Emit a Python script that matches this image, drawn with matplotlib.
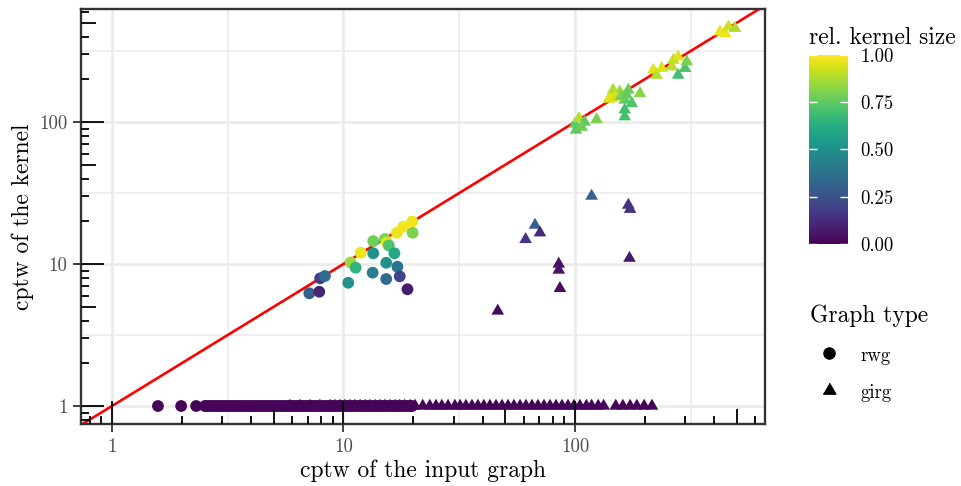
import numpy as np
import matplotlib.pyplot as plt
from matplotlib.transforms import blended_transform_factory
from matplotlib.lines import Line2D
from matplotlib.ticker import NullFormatter

plt.rcParams['font.family'] = 'cmr10'
plt.rcParams['mathtext.fontset'] = 'cm'
plt.rcParams['axes.unicode_minus'] = False

# --- rwg: kernels that collapse to cptw 1 ---
rwg_x_base = [1.58, 1.99, 2.31, 2.52, 2.58, 2.65, 2.72, 2.79, 2.86, 2.93, 3.0,
              3.08, 3.15, 3.23, 3.31, 3.40, 3.48, 3.57, 3.66, 3.75, 3.85,
              3.95, 4.05, 4.15, 4.25, 4.36, 4.47, 4.58, 4.7, 4.81, 4.93, 5.06,
              5.19, 5.32, 5.45, 5.59, 5.73, 5.87, 6.02, 6.17, 6.33, 6.49,
              6.65, 6.82, 6.99, 7.17, 7.35, 7.53, 7.72, 7.91, 8.11, 8.32,
              8.53, 8.74, 8.96, 9.19, 9.42, 9.66, 9.9, 10.15, 10.4, 10.67,
              10.9, 11.2, 11.5, 11.8, 12.1, 12.4, 12.7, 13.0, 13.3, 13.7,
              14.0, 14.4, 14.7, 15.1, 15.5, 15.9, 16.3, 16.7, 17.1, 17.5,
              17.9, 18.4, 18.9, 19.4, 19.8]

# --- rwg: non-trivial kernels ---
rwg_x = [7.12, 7.86, 7.93, 8.32, 10.49, 10.74, 11.29, 11.87, 13.37, 13.45,
         13.45, 15.1, 15.4, 15.7, 15.3, 15.3, 16.6, 17.1, 17.5, 17.0, 18.1,
         19.8, 19.9, 18.9]
rwg_y = [6.22, 6.38, 7.93, 8.23, 7.38, 10.26, 9.42, 12.0, 8.69, 11.9, 14.5,
         15.0, 14.2, 13.5, 10.2, 7.84, 11.9, 9.57, 8.19, 16.6, 18.3, 19.9,
         16.6, 6.64]
rwg_rel = [0.30, 0.10, 0.18, 0.35, 0.50, 0.85, 0.65, 0.97, 0.42, 0.50, 0.78,
           0.80, 0.95, 0.72, 0.50, 0.35, 0.60, 0.38, 0.20, 0.97, 0.98, 0.98,
           0.80, 0.08]

# --- girg: kernels that collapse to cptw 1 ---
girg_x_base = [5.87, 6.49, 7.17, 7.91, 8.74, 9.19, 9.66, 10.15, 10.67, 11.2,
               11.8, 12.4, 13.0, 13.7, 14.4, 15.1, 15.9, 16.7, 17.5, 18.4,
               19.4, 20.4, 22.0, 23.6, 25.1, 26.6, 28.3, 30.3, 31.9, 33.8,
               35.9, 38.1, 40.4, 42.9, 45.6, 48.4, 51.4, 54.5, 57.9, 61.4,
               65.2, 69.2, 73.5, 78.0, 82.8, 87.9, 93.3, 99.0, 105, 112, 118,
               126, 133, 150, 161, 173, 185, 199, 215]

# --- girg: non-trivial kernels ---
girg_x = [118, 170, 173, 67.2, 61.2, 70.6, 85.1, 85.1, 86.1, 172, 46.4,
          100, 101, 104, 110, 124, 107, 144, 146, 156, 164, 170, 191, 164,
          164, 176, 150, 158, 167, 140, 218, 225, 237, 262, 266, 279, 279,
          299, 304, 423, 445, 460, 491]
girg_y = [30.1, 26.0, 24.3, 18.8, 14.9, 16.6, 10.0, 9.07, 6.74, 11.0, 4.67,
          96.8, 87.8, 106, 100, 104, 92, 147, 168, 163, 143, 168, 159, 122,
          109, 135, 150, 152, 155, 145, 232, 214, 239, 245, 273, 288, 214,
          239, 266, 432, 421, 469, 457]
girg_rel = [0.30, 0.15, 0.15, 0.30, 0.15, 0.12, 0.05, 0.05, 0.03, 0.07, 0.02,
            0.75, 0.75, 0.88, 0.75, 0.80, 0.78, 0.95, 0.88, 0.85, 0.75, 0.78,
            0.82, 0.70, 0.70, 0.72, 0.93, 0.80, 0.76, 0.95, 0.95, 0.88, 0.95,
            0.90, 0.90, 0.95, 0.70, 0.72, 0.80, 0.97, 0.97, 0.92, 0.88]

base_rel = 0.01
x_lim = (0.735, 662)
y_lim = (0.747, 625)
ref_line = [0.5, 1000]

# combine
rx = np.array(rwg_x_base + rwg_x)
ry = np.array([1.0] * len(rwg_x_base) + rwg_y)
rc = np.array([base_rel] * len(rwg_x_base) + rwg_rel)
gx = np.array(girg_x_base + girg_x)
gy = np.array([1.0] * len(girg_x_base) + girg_y)
gc = np.array([base_rel] * len(girg_x_base) + girg_rel)

tri = [(-1, -0.577), (1, -0.577), (0, 1.155)]

fig = plt.figure(figsize=(9.61, 4.86), dpi=100)
ax = fig.add_axes([81 / 961, 1 - 424 / 486, 684 / 961, 415 / 486])
ax.set_xscale('log')
ax.set_yscale('log')

ax.plot(ref_line, ref_line, color='red', lw=1.9, zorder=2)
sc = ax.scatter(gx, gy, c=gc, cmap='viridis', vmin=0, vmax=1, marker=tri,
                s=111, edgecolors='none', zorder=3)
ax.scatter(rx, ry, c=rc, cmap='viridis', vmin=0, vmax=1, marker='o',
           s=72, edgecolors='none', zorder=3)

ax.set_xlim(*x_lim)
ax.set_ylim(*y_lim)

# grid
ax.set_xticks([1, 10, 100])
ax.set_xticklabels(['1', '10', '100'])
ax.set_yticks([1, 10, 100])
ax.set_yticklabels(['1', '10', '100'])
ax.set_xticks([10 ** 0.5, 10 ** 1.5, 10 ** 2.5], minor=True)
ax.set_yticks([10 ** 0.5, 10 ** 1.5, 10 ** 2.5], minor=True)
ax.xaxis.set_minor_formatter(NullFormatter())
ax.yaxis.set_minor_formatter(NullFormatter())
ax.grid(which='major', color='#EBEBEB', lw=1.9, zorder=0)
ax.grid(which='minor', color='#EBEBEB', lw=1.1, zorder=0)
ax.set_axisbelow(True)
ax.tick_params(which='minor', length=0)
ax.tick_params(which='major', direction='out', length=5.8, width=1.3,
               color='#333333', labelcolor='#4D4D4D', labelsize=13.5, pad=4)
for sp in ax.spines.values():
    sp.set_color('#333333')
    sp.set_linewidth(1.7)

# log ticks inside the panel
tx = blended_transform_factory(ax.transData, ax.transAxes)
ty = blended_transform_factory(ax.transAxes, ax.transData)
for k in range(-1, 3):
    for m in range(1, 10):
        v = m * 10.0 ** k
        if m == 1:
            lx, ly = 23 / 415, 23 / 684
        elif m == 5:
            lx, ly = 15 / 415, 15 / 684
        else:
            lx, ly = 8 / 415, 8 / 684
        if x_lim[0] <= v <= x_lim[1]:
            ax.plot([v, v], [0, lx], transform=tx, color='black', lw=1.3,
                    clip_on=False, solid_capstyle='butt', zorder=4)
        if y_lim[0] <= v <= y_lim[1]:
            ax.plot([0, ly], [v, v], transform=ty, color='black', lw=1.3,
                    clip_on=False, solid_capstyle='butt', zorder=4)

ax.set_xlabel('cptw of the input graph', fontsize=16.9, labelpad=3)
ax.set_ylabel('cptw of the kernel', fontsize=16.9, labelpad=4)

# colour bar
cax = fig.add_axes([809 / 961, 1 - 244 / 486, 39 / 961, 189 / 486])
cb = fig.colorbar(sc, cax=cax, ticks=[0, 0.25, 0.5, 0.75, 1])
cb.set_ticklabels(['0.00', '0.25', '0.50', '0.75', '1.00'])
cb.outline.set_visible(False)
cax.tick_params(axis='y', direction='in', left=True, right=True,
                color='white', length=5.8, width=1, labelsize=13.5,
                labelcolor='black', pad=8.6)
cax.set_title('rel. kernel size', loc='left', fontsize=16.9, pad=8)

# shape legend
handles = [Line2D([], [], marker='o', ls='', color='black', markersize=8),
           Line2D([], [], marker=tri, ls='', color='black', markersize=10.5)]
fig.legend(handles, ['rwg', 'girg'], title='Graph type', loc='upper left',
           bbox_to_anchor=(793 / 961, 1 - 288 / 486), frameon=False,
           fontsize=13.5, title_fontsize=16.9, alignment='left',
           handletextpad=0.7, labelspacing=0.95, handleheight=1.1)

fig.savefig('out.png', dpi=100)
